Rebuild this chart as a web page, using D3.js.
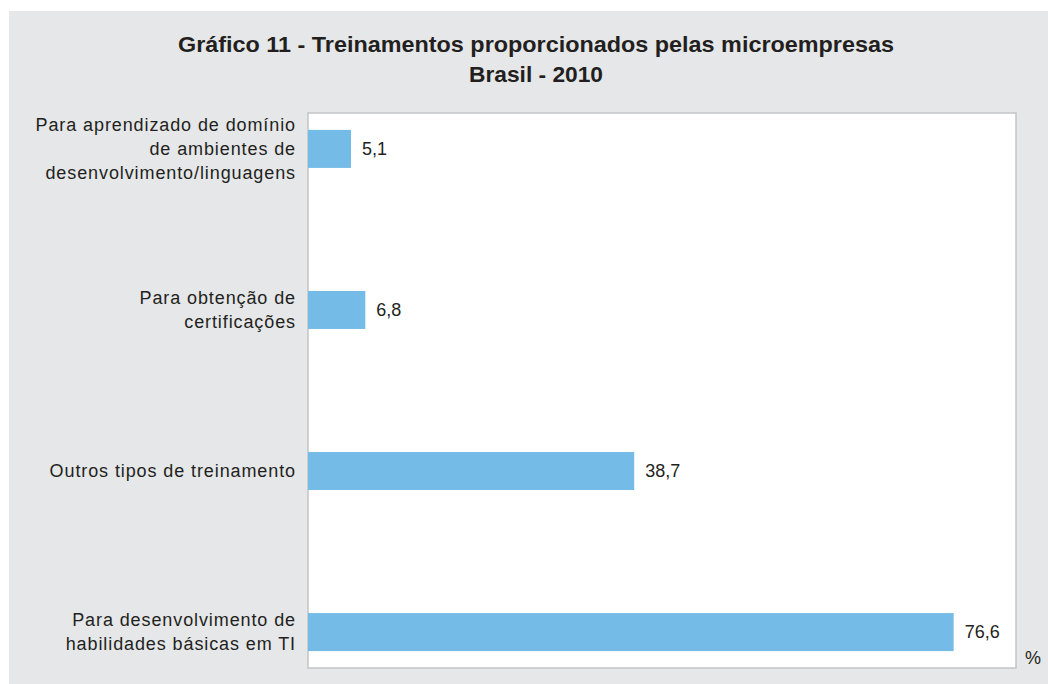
<!DOCTYPE html>
<html>
<head>
<meta charset="utf-8">
<script src="https://cdn.jsdelivr.net/npm/d3@7"></script>
<style>
  body { margin: 0; background: #fff; }
  text { font-family: "Liberation Sans", Arial, sans-serif; fill: #231f20; }
</style>
</head>
<body>
<script>
// chart data
const categories = [
    ["Para aprendizado de domínio", "de ambientes de", "desenvolvimento/linguagens"],
    ["Para obtenção de", "certificações"],
    ["Outros tipos de treinamento"],
    ["Para desenvolvimento de", "habilidades básicas em TI"]
];
const values = [5.1, 6.8, 38.7, 76.6];
const titleLines = ["Gráfico 11 - Treinamentos proporcionados pelas microempresas", "Brasil - 2010"];
const unitLabel = "%";

const W = 1048, H = 684;
const margin = {top: 113, right: 32, bottom: 16, left: 308};
const width = W - margin.left - margin.right,
    height = H - margin.top - margin.bottom;

const svg = d3.select("body")
    .append("svg")
    .attr("width", W)
    .attr("height", H);

// gray panel
svg.append("rect")
    .attr("x", 9)
    .attr("y", 11)
    .attr("width", W - 9)
    .attr("height", H - 11)
    .attr("fill", "#e6e7e9");

// title
const titleWidths = [716, 134];
svg.selectAll(".title")
    .data(titleLines)
    .enter()
    .append("text")
    .attr("class", "title")
    .attr("x", 536)
    .attr("y", (d, i) => 52 + i * 30)
    .attr("text-anchor", "middle")
    .attr("font-size", "22.5px")
    .attr("font-weight", "bold")
    .attr("textLength", (d, i) => titleWidths[i])
    .attr("lengthAdjust", "spacingAndGlyphs")
    .text(d => d);

const g = svg.append("g")
    .attr("transform", `translate(${margin.left}, ${margin.top})`);

// plot area with light shadow border
g.append("rect")
    .attr("x", 0)
    .attr("y", 0)
    .attr("width", width)
    .attr("height", height)
    .attr("fill", "#fff")
    .attr("stroke", "#c4c5c7")
    .attr("stroke-width", 1.5);

const x = d3.scaleLinear()
    .domain([0, 84])
    .range([0, width]);

const y = d3.scaleBand()
    .domain(d3.range(values.length))
    .range([0, height])
    .paddingInner(0.764)
    .paddingOuter(0.105);

const fmt = d3.formatLocale({decimal: ",", thousands: ".", grouping: [3], currency: ["R$", ""]}).format(".1f");

g.selectAll(".bar")
    .data(values)
    .enter()
    .append("rect")
    .attr("class", "bar")
    .attr("x", x(0))
    .attr("y", (d, i) => y(i))
    .attr("width", d => x(d) - x(0))
    .attr("height", y.bandwidth())
    .attr("fill", "#74bce7");

g.selectAll(".value")
    .data(values)
    .enter()
    .append("text")
    .attr("class", "value")
    .attr("x", d => x(d) + 11)
    .attr("y", (d, i) => y(i) + y.bandwidth() / 2)
    .attr("dy", "0.35em")
    .attr("font-size", "18px")
    .text(d => fmt(d));

// category labels, multi-line, right aligned
const labels = g.selectAll(".cat")
    .data(categories)
    .enter()
    .append("text")
    .attr("class", "cat")
    .attr("text-anchor", "end")
    .attr("font-size", "18px")
    .attr("letter-spacing", "0.9px")
    .attr("transform", (d, i) => `translate(-12, ${y(i) + y.bandwidth() / 2})`);

labels.selectAll("tspan")
    .data(d => d.map((t, j) => ({t, j, n: d.length})))
    .enter()
    .append("tspan")
    .attr("x", 0)
    .attr("y", d => (d.j - (d.n - 1) / 2) * 24)
    .attr("dy", "0.35em")
    .text(d => d.t);

// unit
svg.append("text")
    .attr("x", 1025)
    .attr("y", 664)
    .attr("font-size", "18px")
    .text(unitLabel);
</script>
</body>
</html>
